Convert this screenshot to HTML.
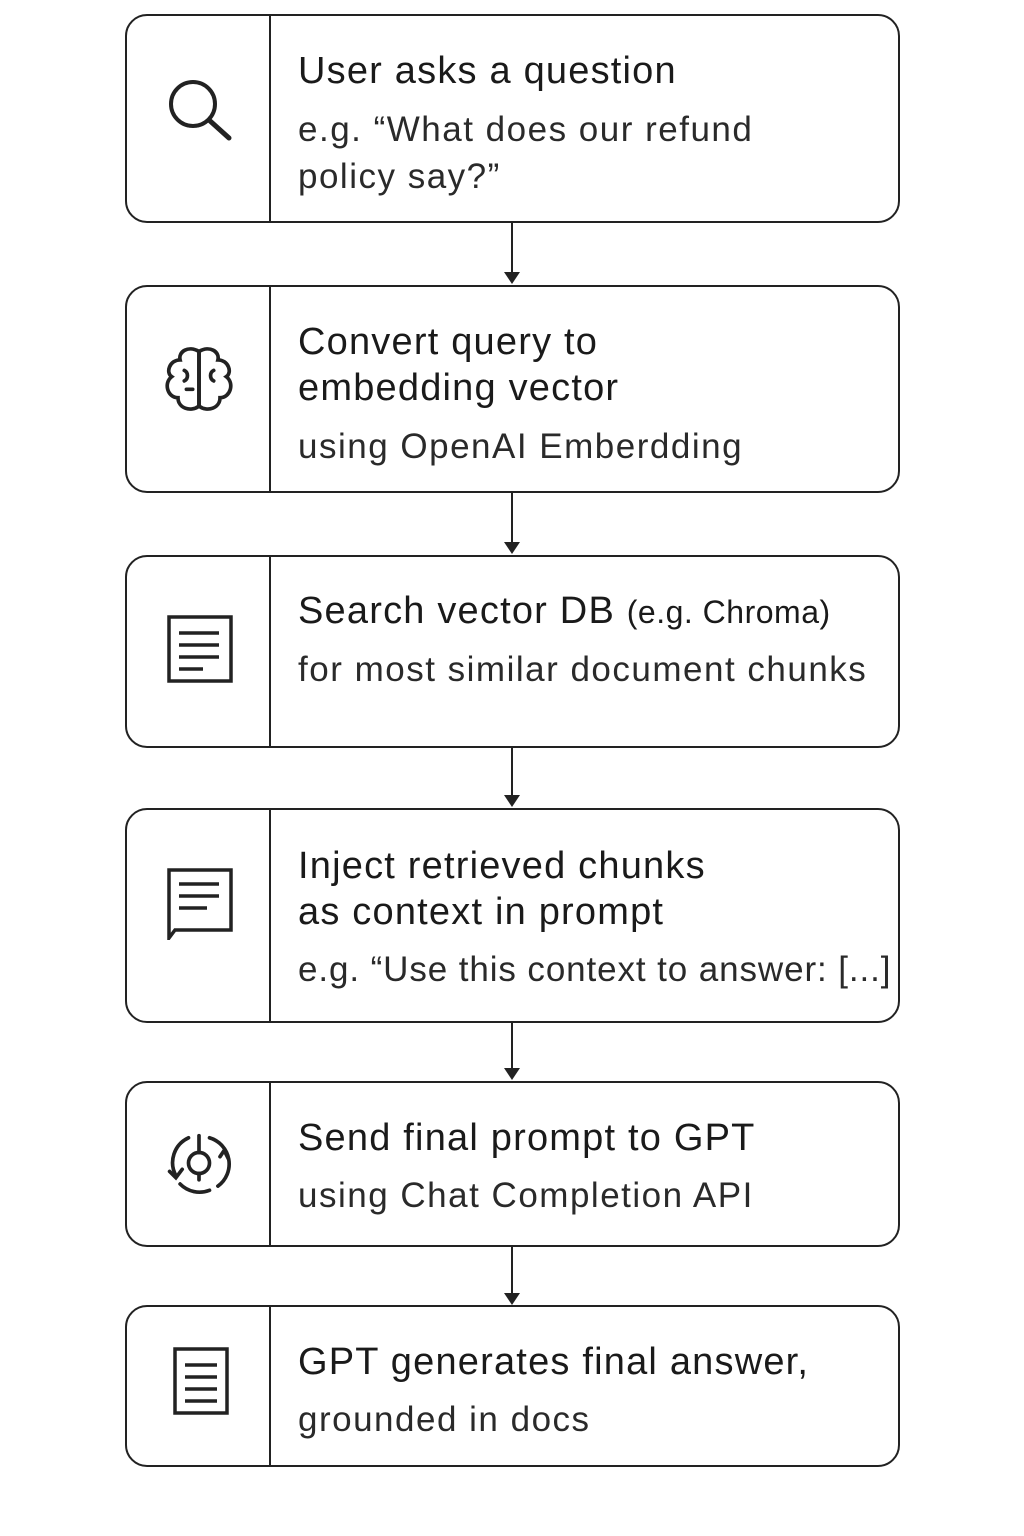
<!DOCTYPE html>
<html><head><meta charset="utf-8"><style>
body{margin:0;width:1024px;height:1536px;background:#fff;position:relative;font-family:"Liberation Sans","DejaVu Sans",sans-serif;color:#1a1a1a;overflow:hidden}
.box{position:absolute;left:125px;width:771px;border:2px solid #222;border-radius:22px;box-sizing:content-box}
.div{position:absolute;left:142px;top:0;bottom:0;border-left:2px solid #222}
.t{position:absolute;left:171px;font-size:38px;line-height:46px;letter-spacing:1.2px;white-space:nowrap}
.s{position:absolute;left:171px;font-size:35px;line-height:47px;letter-spacing:1.5px;color:#2a2a2a;white-space:nowrap}
.ic{position:absolute;left:30px}
.ar{position:absolute;left:511px;border-left:2px solid #222}
.ah{position:absolute;left:504px;width:0;height:0;border-left:8px solid transparent;border-right:8px solid transparent;border-top:12px solid #222}
</style></head><body>

<div class="box" style="top:14px;height:205px"><div class="div"></div>
<svg class="ic" style="top:58px" width="80" height="80" viewBox="0 0 80 80"><circle cx="36" cy="30" r="22" fill="none" stroke="#222" stroke-width="4"/><line x1="52" y1="46" x2="72" y2="64" stroke="#222" stroke-width="5" stroke-linecap="round"/></svg>
<div class="t" style="top:32px">User asks a question</div>
<div class="s" style="top:90px">e.g. “What does our refund<br>policy say?”</div></div>

<div class="ar" style="top:222px;height:52px"></div><div class="ah" style="top:272px"></div>

<div class="box" style="top:285px;height:204px"><div class="div"></div>
<svg class="ic" style="top:54px" width="84" height="84" viewBox="0 0 80 80" fill="none" stroke="#222" stroke-width="3.5" stroke-linecap="round"><path d="M40 10 C30 4 20 10 22 18 C12 18 8 30 14 34 C6 40 10 54 20 54 C20 64 32 68 40 62 Z"/><path d="M40 10 C50 4 60 10 58 18 C68 18 72 30 66 34 C74 40 70 54 60 54 C60 64 48 68 40 62 Z"/><path d="M40 10 V62 M26 28 C30 30 30 36 26 38 M54 28 C50 30 50 36 54 38 M28 46 H34"/></svg>
<div class="t" style="top:32px">Convert query to<br>embedding vector</div>
<div class="s" style="top:136px">using OpenAI Emberdding</div></div>

<div class="ar" style="top:492px;height:52px"></div><div class="ah" style="top:542px"></div>

<div class="box" style="top:555px;height:189px"><div class="div"></div>
<svg class="ic" style="top:58px" width="80" height="72" viewBox="0 0 80 72" fill="none" stroke="#222" stroke-width="3.5"><rect x="12" y="2" width="62" height="64"/><line x1="22" y1="18" x2="62" y2="18"/><line x1="22" y1="30" x2="62" y2="30"/><line x1="22" y1="42" x2="62" y2="42"/><line x1="22" y1="54" x2="46" y2="54"/></svg>
<div class="t" style="top:31px">Search vector DB <span style="font-size:32px;letter-spacing:0.5px">(e.g. Chroma)</span></div>
<div class="s" style="top:89px">for most similar document chunks</div></div>

<div class="ar" style="top:747px;height:50px"></div><div class="ah" style="top:795px"></div>

<div class="box" style="top:808px;height:211px"><div class="div"></div>
<svg class="ic" style="top:58px" width="80" height="72" viewBox="0 0 80 72" fill="none" stroke="#222" stroke-width="3.5"><path d="M12 2 H74 V62 H18 L12 70 Z"/><line x1="22" y1="16" x2="62" y2="16"/><line x1="22" y1="28" x2="62" y2="28"/><line x1="22" y1="40" x2="50" y2="40"/></svg>
<div class="t" style="top:33px">Inject retrieved chunks<br>as context in prompt</div>
<div class="s" style="top:136px;letter-spacing:0.9px">e.g. “Use this context to answer: [...]</div></div>

<div class="ar" style="top:1022px;height:48px"></div><div class="ah" style="top:1068px"></div>

<div class="box" style="top:1081px;height:162px"><div class="div"></div>
<svg class="ic" style="top:38px" width="84" height="84" viewBox="0 0 80 80" fill="none" stroke="#222" stroke-width="3.5" stroke-linecap="round"><circle cx="40" cy="40" r="10"/><line x1="40" y1="14" x2="40" y2="30"/><line x1="40" y1="50" x2="40" y2="56"/><path d="M18 52 A26 26 0 0 1 30 16"/><path d="M50 16 A26 26 0 0 1 58 62 M50 66 A26 26 0 0 1 22 60"/><path d="M12 48 L18 54 L24 46"/><path d="M60 34 L64 28 L68 36"/></svg>
<div class="t" style="top:32px">Send final prompt to GPT</div>
<div class="s" style="top:89px">using Chat Completion API</div></div>

<div class="ar" style="top:1246px;height:48px"></div><div class="ah" style="top:1293px"></div>

<div class="box" style="top:1305px;height:158px"><div class="div"></div>
<svg class="ic" style="top:40px" width="80" height="72" viewBox="0 0 80 72" fill="none" stroke="#222" stroke-width="3.5"><rect x="18" y="2" width="52" height="64"/><line x1="28" y1="18" x2="60" y2="18"/><line x1="28" y1="30" x2="60" y2="30"/><line x1="28" y1="42" x2="60" y2="42"/><line x1="28" y1="54" x2="60" y2="54"/></svg>
<div class="t" style="top:32px">GPT generates final answer,</div>
<div class="s" style="top:89px">grounded in docs</div></div>

</body></html>
